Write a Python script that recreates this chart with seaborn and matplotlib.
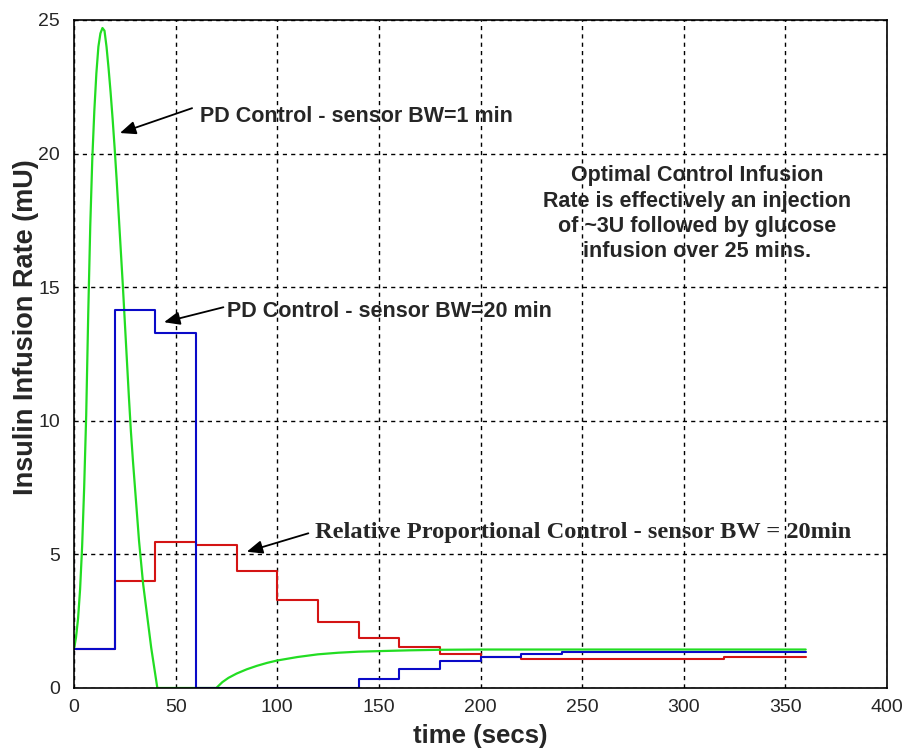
import numpy as np
import pandas as pd
import matplotlib
matplotlib.use("Agg")
import matplotlib.pyplot as plt
import seaborn as sns

# ---- data ----
t_green = [0, 1, 2, 3, 4, 5, 6, 7, 8, 9, 10, 11, 12, 13, 14, 15, 16, 17, 18, 19, 20,
           21, 22, 23, 24, 25, 26, 27, 28, 29, 30, 31, 32, 33, 34, 35, 36, 37, 38, 39, 40, 41,
           70, 73, 76, 80, 85, 90, 95, 100, 110, 120, 130, 140, 150, 165, 180, 200, 360]
v_green = [1.45, 1.9, 2.6, 3.7, 5.3, 7.5, 10.2, 14.0, 17.3, 19.8, 21.6, 23.0, 24.0, 24.5, 24.7,
           24.6, 24.0, 23.2, 22.3, 21.3, 20.2,
           19.0, 17.7, 16.4, 15.1, 13.7, 12.3, 10.9, 9.6, 8.5, 7.5, 6.5, 5.5, 4.7, 3.9, 3.3, 2.7,
           2.1, 1.5, 1.0, 0.5, 0.0,
           0.0, 0.22, 0.38, 0.54, 0.70, 0.83, 0.94, 1.03, 1.16, 1.26, 1.32, 1.36, 1.38, 1.41,
           1.43, 1.44, 1.44]

t_blue = [0, 20, 40, 60, 140, 160, 180, 200, 220, 240, 360]
v_blue = [1.45, 14.15, 13.3, 0.0, 0.34, 0.71, 1.0, 1.15, 1.28, 1.36, 1.36]

t_red = [0, 20, 40, 60, 80, 100, 120, 140, 160, 180, 200, 220, 320, 360]
v_red = [1.45, 4.0, 5.45, 5.35, 4.39, 3.29, 2.47, 1.87, 1.53, 1.29, 1.16, 1.10, 1.16, 1.16]

x_ticks = [0, 50, 100, 150, 200, 250, 300, 350, 400]
y_ticks = [0, 5, 10, 15, 20, 25]

sns.set_style("white")
plt.rcParams['font.family'] = ['Liberation Sans', 'DejaVu Sans']

fig = plt.figure(figsize=(9.07, 7.53), dpi=100)
ax = fig.add_axes([74 / 907, 1 - 688 / 753, (887 - 74) / 907, (688 - 20) / 753])

df_r = pd.DataFrame({"t": t_red, "v": v_red})
df_g = pd.DataFrame({"t": t_green, "v": v_green})
df_b = pd.DataFrame({"t": t_blue, "v": v_blue})

sns.lineplot(data=df_r, x="t", y="v", ax=ax, color="#d41414", lw=1.5,
             drawstyle="steps-post", estimator=None, sort=False)
sns.lineplot(data=df_g, x="t", y="v", ax=ax, color="#22dd22", lw=1.6,
             estimator=None, sort=False)
sns.lineplot(data=df_b, x="t", y="v", ax=ax, color="#0a0ac8", lw=1.5,
             drawstyle="steps-post", estimator=None, sort=False)

ax.set_xlim(0, 400)
ax.set_ylim(0, 25)
ax.set_xticks(x_ticks)
ax.set_yticks(y_ticks)
tick_font = dict(family=['Liberation Sans Narrow', 'Liberation Sans', 'DejaVu Sans'], size=14)
ax.set_xticklabels([str(v) for v in x_ticks], fontdict=tick_font)
ax.set_yticklabels([str(v) for v in y_ticks], fontdict=tick_font)
ax.tick_params(direction="in", length=5, color="black")
ax.tick_params(axis="x", pad=8)
ax.tick_params(axis="y", pad=10)
ax.grid(True, color="black", linestyle=(0, (3, 3)), linewidth=1.0)
for s in ax.spines.values():
    s.set_color("black")
    s.set_linewidth(1.2)

ax.set_xlabel("time (secs)", fontsize=18.5, fontweight="bold", labelpad=6)
ax.set_ylabel("Insulin Infusion Rate (mU)", fontsize=19.5, fontweight="bold")
ax.yaxis.set_label_coords(-0.043, 0.54)

arrow = dict(arrowstyle="-|>,head_length=0.95,head_width=0.4", color="black", lw=1.3,
             shrinkA=0, shrinkB=0)
ax.annotate("", xy=(22.6, 20.77), xytext=(58.1, 21.7), arrowprops=arrow)
ax.text(62, 21.37, "PD Control - sensor BW=1 min", fontsize=15.5, fontweight="bold",
        va="center", ha="left")

ax.annotate("", xy=(44.3, 13.69), xytext=(73.5, 14.25), arrowprops=arrow)
ax.text(75.3, 14.08, "PD Control - sensor BW=20 min", fontsize=15.5, fontweight="bold",
        va="center", ha="left")

ax.annotate("", xy=(85.0, 5.10), xytext=(115.3, 5.79), arrowprops=arrow)
ax.text(118.6, 5.81, "Relative Proportional Control - sensor BW = 20min", fontsize=17.6,
        fontweight="bold", family=['Liberation Serif', 'DejaVu Serif'],
        va="center", ha="left")

ax.text(306.5, 17.75,
        "Optimal Control Infusion\nRate is effectively an injection\nof ~3U followed by glucose\ninfusion over 25 mins.",
        fontsize=15.5, fontweight="bold", ha="center", va="center", linespacing=1.26)

fig.savefig("out.png", dpi=100)
